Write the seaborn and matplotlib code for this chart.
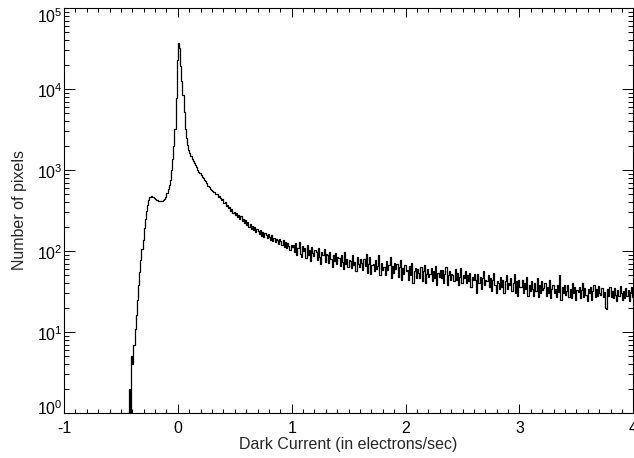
import numpy as np
import pandas as pd
import matplotlib
matplotlib.use("Agg")
import matplotlib.pyplot as plt
import matplotlib.transforms as mtransforms
import seaborn as sns
from matplotlib.ticker import MultipleLocator, LogLocator, NullFormatter, FixedLocator

# ---- data ----
bin_start = -0.45
bin_width = 0.01

# bins -0.45 .. -0.01
counts_rise = [
    1, 1, 2, 1, 5, 4, 7, 11, 16, 25,
    38, 55, 77, 105, 136, 190, 245, 310, 370, 420,
    470, 478, 465, 470, 452, 438, 428, 420, 415, 412,
    415, 410, 420, 440, 470, 520, 580, 650, 760, 1000,
    1350, 2000, 3200, 7800, 23000,
]
# bins 0.00 .. 1.00
counts_peak = [
    36500, 32000, 19000, 12500, 8500, 5200, 3200, 2500, 2050, 1770,
    1600, 1480, 1380, 1300, 1230, 1150, 1080, 1000, 955, 910,
    865, 830, 790, 760, 730, 690, 640, 610, 590, 570,
    555, 540, 535, 505, 510, 470, 475, 455, 420, 432,
    395, 398, 360, 368, 335, 348, 310, 330, 295, 305,
    280, 292, 260, 275, 245, 268, 236, 250, 222, 238,
    212, 226, 198, 215, 188, 205, 182, 200, 170, 188,
    178, 164, 182, 155, 172, 150, 166, 158, 145, 162,
    150, 138, 156, 132, 146, 128, 142, 135, 122, 140,
    132, 118, 136, 112, 128, 108, 124, 114, 104, 120,
    112,
]
# bins 1.01 .. 4.00
counts_tail = [
    118, 96, 125, 88, 110, 130, 92, 84, 115, 100,
    108, 82, 120, 90, 102, 75, 112, 95, 86, 104,
    98, 78, 110, 84, 70, 96, 88, 106, 74, 92,
    90, 72, 98, 80, 64, 88, 76, 95, 70, 84,
    82, 66, 90, 74, 60, 96, 70, 80, 64, 78,
    76, 62, 88, 68, 74, 56, 84, 70, 64, 80,
    72, 58, 80, 66, 92, 54, 70, 84, 52, 68,
    70, 56, 78, 60, 66, 88, 50, 72, 58, 64,
    64, 50, 76, 58, 68, 84, 46, 66, 54, 72,
    60, 70, 48, 64, 78, 44, 62, 52, 68, 56,
    58, 44, 66, 50, 72, 40, 56, 62, 46, 60,
    54, 46, 64, 42, 56, 68, 40, 52, 60, 48,
    52, 62, 42, 56, 46, 66, 38, 54, 48, 58,
    46, 58, 40, 52, 64, 38, 50, 56, 44, 52,
    50, 42, 60, 44, 54, 38, 48, 62, 40, 50,
    46, 56, 40, 50, 42, 54, 36, 48, 44, 52,
    44, 30, 52, 40, 48, 34, 46, 56, 38, 44,
    42, 50, 36, 46, 32, 44, 54, 38, 30, 42,
    40, 34, 48, 36, 44, 30, 42, 50, 34, 40,
    38, 46, 32, 40, 52, 30, 42, 28, 44, 36,
    36, 44, 30, 40, 34, 48, 28, 38, 32, 42,
    34, 28, 40, 32, 46, 27, 38, 30, 42, 33,
    35, 40, 28, 36, 30, 44, 26, 34, 38, 30,
    34, 27, 38, 31, 50, 25, 36, 30, 38, 29,
    32, 38, 27, 34, 26, 40, 30, 36, 25, 33,
    31, 36, 26, 33, 40, 27, 35, 29, 24, 34,
    30, 36, 25, 32, 38, 27, 34, 28, 37, 30,
    29, 35, 27, 31, 20, 19, 34, 28, 36, 27,
    32, 26, 35, 29, 24, 33, 28, 37, 30, 25,
    32, 26, 35, 28, 33, 24, 31, 36, 27, 31,
]

x_label = "Dark Current (in electrons/sec)"
y_label = "Number of pixels"
x_ticks = [-1, 0, 1, 2, 3, 4]
y_ticks = [1, 10, 100, 1000, 10000, 100000]

counts = np.array(counts_rise + counts_peak + counts_tail, dtype=float)
edges = np.round(bin_start + bin_width * np.arange(len(counts) + 1), 2)
centers = (edges[:-1] + edges[1:]) / 2
df = pd.DataFrame({"x": centers, "n": counts})

# ---- style ----
sns.set_style("ticks")
plt.rcParams['font.family'] = ['Liberation Sans', 'DejaVu Sans']
plt.rcParams['axes.unicode_minus'] = False
plt.rcParams['font.size'] = 11

fig = plt.figure(figsize=(6.34, 4.58), dpi=100)
ax = fig.add_axes([0.1009, 0.0983, 0.898, 0.8843])

sns.histplot(data=df, x="x", weights="n", bins=edges.tolist(), element="step",
             fill=False, color="black", linewidth=0.9, ax=ax)

ax.set_yscale("log")
ax.set_xlim(-1, 4)
ax.set_ylim(1, 1e5)

ax.xaxis.set_major_locator(FixedLocator(x_ticks))
ax.xaxis.set_minor_locator(MultipleLocator(0.1))
ax.yaxis.set_major_locator(FixedLocator(y_ticks))
ax.yaxis.set_minor_locator(LogLocator(base=10, subs=np.arange(2, 10)))
ax.yaxis.set_minor_formatter(NullFormatter())
ax.set_xticklabels([str(t) for t in x_ticks])
ax.set_yticklabels([r"$\mathdefault{10^{%d}}$" % int(np.log10(t)) for t in y_ticks])

for s in ax.spines.values():
    s.set_visible(True)
    s.set_color("black")
    s.set_linewidth(0.8)

ax.tick_params(axis="both", which="both", direction="in", top=True, right=True,
               colors="black", width=0.7, labelsize=11.5)
ax.tick_params(axis="x", which="major", length=6.3, pad=5.5)
ax.tick_params(axis="x", which="minor", length=3)
ax.tick_params(axis="y", which="major", length=8, pad=1)
ax.tick_params(axis="y", which="minor", length=3.6)

# keep the extreme y labels inside the axis range like the reference
ylabels = ax.get_yticklabels()
shift_pts = {0: 4, len(ylabels) - 1: -5}
for i, lab in enumerate(ylabels):
    dy = shift_pts.get(i, -1)
    lab.set_transform(lab.get_transform() +
                      mtransforms.ScaledTranslation(0, dy / 72, fig.dpi_scale_trans))

ax.set_xlabel(x_label, fontsize=11.5, labelpad=1)
ax.set_ylabel(y_label, fontsize=11.5, labelpad=7)

fig.savefig("out.png", dpi=100)
